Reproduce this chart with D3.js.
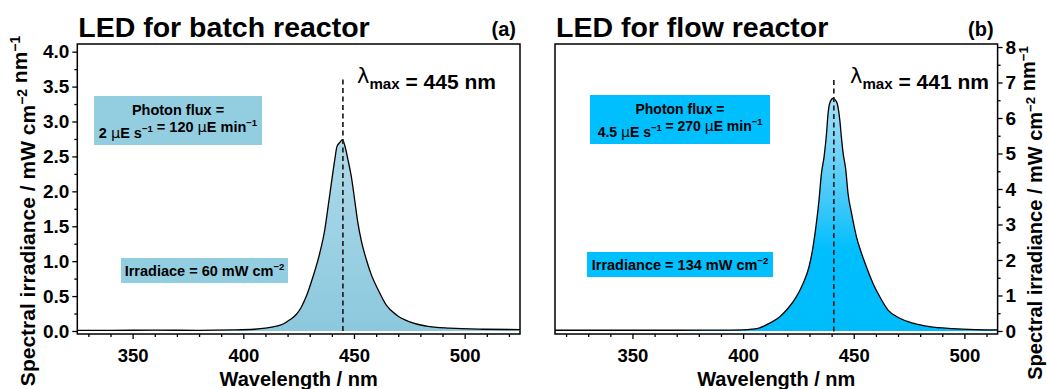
<!DOCTYPE html>
<html><head><meta charset="utf-8">
<script src="https://cdn.jsdelivr.net/npm/d3@7"></script>
<style>
body{margin:0;background:#fff}
svg{display:block}
text{font-family:"Liberation Sans",Arial,Helvetica,sans-serif;font-weight:bold;fill:#000}
</style>
</head><body>
<svg id="c" width="1047" height="389"></svg>
<script>
// ---- data ----
const wavelengthA = [325,340,360,380,395,405,410,415,418,421,424,426,428.5,431.5,434.5,436.8,438.3,439.8,441.3,442.3,443.6,444.8,445.8,447.3,448.8,450.3,451.8,453.4,455.6,457.9,460.9,464.6,469.2,475.2,482.7,493.2,508.3,525];
const irradianceA = [0.01,0.01,0.012,0.01,0.015,0.025,0.04,0.07,0.10,0.16,0.24,0.33,0.5,0.78,1.11,1.45,1.78,2.12,2.45,2.64,2.70,2.74,2.66,2.45,2.21,1.88,1.54,1.28,1.02,0.80,0.59,0.37,0.23,0.13,0.07,0.04,0.025,0.02];
const wavelengthB = [315,330,350,370,390,400,404,407.5,412,416.6,420.3,424.1,427.1,429.8,431.6,433.1,434.3,435.4,436.6,437.7,438.4,439.1,440.6,442.2,443.7,444.4,445.2,446.4,447.4,449,451.2,453.5,455.7,458.7,461.7,465.5,470.8,476.8,484.3,494.9,505,515];
const irradianceB = [0.02,0.02,0.02,0.02,0.025,0.03,0.05,0.09,0.22,0.40,0.64,0.97,1.34,1.81,2.37,3.03,3.69,4.44,4.91,5.57,6.13,6.41,6.55,6.46,5.94,5.47,5.01,4.54,3.88,3.32,2.66,2.19,1.81,1.34,0.97,0.59,0.36,0.22,0.12,0.065,0.04,0.03];
const xTickLabels = [350,400,450,500];
const yTicksA = [0,0.5,1.0,1.5,2.0,2.5,3.0,3.5,4.0];
const yTicksB = [0,1,2,3,4,5,6,7,8];
const peakA = 445, peakB = 441;
const titleA = "LED for batch reactor", titleB = "LED for flow reactor";

const svg = d3.select("#c");

function rich(g, x, y, parts, size, anchor, supRaise){
  const r = supRaise || 0.42;
  const t = g.append("text").attr("x", x).attr("y", y).attr("font-size", size).attr("text-anchor", anchor||"start");
  parts.forEach(p=>{
    if(p.sup){ t.append("tspan").attr("font-size", size*0.66).attr("dy", -size*r).text(p.sup);
               t.append("tspan").attr("dy", size*r).text(""); }
    else if(p.sub){ t.append("tspan").attr("font-size", size*0.72).attr("dy", size*0.3).text(p.sub);
               t.append("tspan").attr("dy", -size*0.3).text(""); }
    else if(p.sym){ t.append("tspan").attr("font-weight","normal").attr("font-family","'DejaVu Sans',sans-serif").text(p.sym); }
    else t.append("tspan").text(p.t);
  });
  return t;
}

const panels = [
  {id:"a", wl:wavelengthA, val:irradianceA, xd:[325,525], xr:[77.3,520], yd:[-0.043,4.11], yTicks:yTicksA, yMinor:0.25, fmt:d3.format(".1f"),
   side:"left", peak:peakA, dashTop:3.6, title:titleA, letter:"(a)",
   grad:[["0%","#aedaea"],["100%","#8cc8dd"]], boxColor:"#93cde0", boxFont:14.5,
   box1:[94,96,168,49], box1Lines:[[{t:"Photon flux ="}],[{t:"2 "},{sym:"μ"},{t:"E s"},{sup:"−1"},{t:" = 120 "},{sym:"μ"},{t:"E min"},{sup:"−1"}]],
   box2:[121,258,167,25], box2Text:[{t:"Irradiace = 60 mW cm"},{sup:"−2"}], lamX:357, yLab:[35,211]},
  {id:"b", wl:wavelengthB, val:irradianceB, xd:[315,515], xr:[555,997.6], yd:[-0.085,8.085], yTicks:yTicksB, yMinor:0.5, fmt:d3.format("d"),
   side:"right", peak:peakB, dashTop:7.07, title:titleB, letter:"(b)",
   grad:[["0%","#a6dff8"],["45%","#3ec8f9"],["65%","#00bfff"],["100%","#00bcfb"]], boxColor:"#00bfff", boxFont:14,
   box1:[590,95,180,49], box1Lines:[[{t:"Photon flux ="}],[{t:"4.5 "},{sym:"μ"},{t:"E s"},{sup:"−1"},{t:" = 270 "},{sym:"μ"},{t:"E min"},{sup:"−1"}]],
   box2:[587,252,186,25], box2Text:[{t:"Irradiance = 134 mW cm"},{sup:"−2"}], lamX:850, yLab:[1042,213]}
];

const defs = svg.append("defs");

panels.forEach(P=>{
  const x = d3.scaleLinear().domain(P.xd).range(P.xr);
  const y = d3.scaleLinear().domain(P.yd).range([334,44]);
  const g = svg.append("g");

  const ymax = d3.max(P.val);
  const gr = defs.append("linearGradient").attr("id","g"+P.id).attr("gradientUnits","userSpaceOnUse")
    .attr("x1",0).attr("x2",0).attr("y1",y(ymax)).attr("y2",y(0));
  P.grad.forEach(s=>gr.append("stop").attr("offset",s[0]).attr("stop-color",s[1]));

  const pts = P.wl.map((w,i)=>[w,P.val[i]]);
  const area = d3.area().x(d=>x(d[0])).y0(y(0)).y1(d=>y(d[1])).curve(d3.curveMonotoneX);
  const line = d3.line().x(d=>x(d[0])).y(d=>y(d[1])).curve(d3.curveMonotoneX);
  g.append("path").attr("d",area(pts)).attr("fill","url(#g"+P.id+")");
  g.append("path").attr("d",line(pts)).attr("fill","none").attr("stroke","#000").attr("stroke-width",1.3);

  // dashed peak marker
  g.append("line").attr("x1",x(P.peak)).attr("x2",x(P.peak)).attr("y1",y(P.dashTop)).attr("y2",y(P.yd[0]))
    .attr("stroke","#222").attr("stroke-width",1.7).attr("stroke-dasharray","5,3.5");

  // frame
  g.append("rect").attr("x",P.xr[0]).attr("y",44).attr("width",P.xr[1]-P.xr[0]).attr("height",290)
    .attr("fill","none").attr("stroke","#000").attr("stroke-width",1.5);

  // x axis
  const minorX = d3.range(Math.ceil(P.xd[0]/10)*10, P.xd[1]+0.1, 10).filter(v=>v%50!==0);
  const axM = g.append("g").attr("transform","translate(0,334)")
    .call(d3.axisBottom(x).tickValues(minorX).tickSize(3).tickSizeOuter(0).tickFormat(""));
  const axX = g.append("g").attr("transform","translate(0,334)")
    .call(d3.axisBottom(x).tickValues(xTickLabels).tickSize(5).tickSizeOuter(0).tickPadding(6));
  [axM,axX].forEach(a=>{a.select(".domain").remove(); a.selectAll("line").attr("stroke","#000").attr("stroke-width",1.3);});
  axX.selectAll("text").attr("font-size",18.5).attr("font-family",null).attr("dy","0.9em");

  // y axis
  const ax0 = P.side==="left"?P.xr[0]:P.xr[1];
  const mkAxis = P.side==="left"?d3.axisLeft:d3.axisRight;
  const minorY = d3.range(P.yMinor, P.yd[1], P.yMinor*2);
  const ayM = g.append("g").attr("transform",`translate(${ax0},0)`)
    .call(mkAxis(y).tickValues(minorY).tickSize(3).tickSizeOuter(0).tickFormat(""));
  const ay = g.append("g").attr("transform",`translate(${ax0},0)`)
    .call(mkAxis(y).tickValues(P.yTicks).tickSize(5).tickSizeOuter(0).tickPadding(3).tickFormat(P.fmt));
  [ayM,ay].forEach(a=>{a.select(".domain").remove(); a.selectAll("line").attr("stroke","#000").attr("stroke-width",1.3);});
  ay.selectAll("text").attr("font-size",19).attr("font-family",null);

  // titles
  g.append("text").attr("x",P.xr[0]+1).attr("y",37).attr("font-size",28.5).text(P.title);
  g.append("text").attr("x",P.xr[1]-4).attr("y",36).attr("font-size",20).attr("text-anchor","end").text(P.letter);

  // x label
  g.append("text").attr("x",(P.xr[0]+P.xr[1])/2).attr("y",386).attr("font-size",20).attr("text-anchor","middle").text("Wavelength / nm");

  // y label
  const yl = g.append("g").attr("transform", `translate(${P.yLab[0]},${P.yLab[1]}) rotate(-90)`);
  rich(yl, 0, 0, [{t:"Spectral irradiance / mW cm"},{sup:"−2"},{t:" nm"},{sup:"−1"}], P.side==="left"?21:20, "middle", 0.36);

  // lambda max
  rich(g, P.lamX, 83, [{sym:"λ"},{sub:"max"},{t:" = "+P.peak+" nm"}], 21, "start");

  // boxes
  const b1 = P.box1;
  g.append("rect").attr("x",b1[0]).attr("y",b1[1]).attr("width",b1[2]).attr("height",b1[3]).attr("fill",P.boxColor);
  rich(g, b1[0]+b1[2]/2, b1[1]+19, P.box1Lines[0], P.boxFont, "middle");
  rich(g, b1[0]+b1[2]/2, b1[1]+42, P.box1Lines[1], P.boxFont, "middle");
  const b2 = P.box2;
  g.append("rect").attr("x",b2[0]).attr("y",b2[1]).attr("width",b2[2]).attr("height",b2[3]).attr("fill",P.boxColor);
  rich(g, b2[0]+b2[2]/2, b2[1]+18, P.box2Text, 14.5, "middle");
});
</script>
</body></html>
